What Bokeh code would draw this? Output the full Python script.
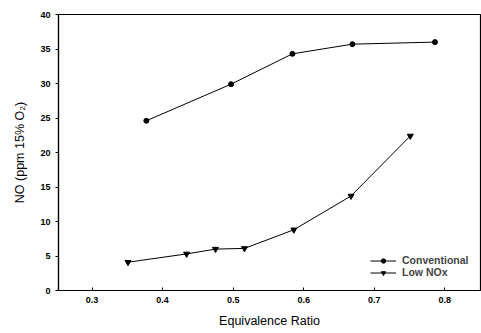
from bokeh.plotting import figure
from bokeh.models import Range1d, FixedTicker, Legend, LegendItem
from bokeh.embed import file_html
from bokeh.resources import INLINE

conv_x = [0.377, 0.497, 0.584, 0.669, 0.786]
conv_y = [24.6, 29.9, 34.3, 35.7, 36.0]
low_x = [0.351, 0.434, 0.475, 0.516, 0.586, 0.667, 0.751]
low_y = [4.1, 5.3, 6.0, 6.1, 8.8, 13.7, 22.4]
x_ticks = [0.3, 0.4, 0.5, 0.6, 0.7, 0.8]
y_ticks = [0, 5, 10, 15, 20, 25, 30, 35, 40]

FONT = "Liberation Sans"

p = figure(width=481, height=333, output_backend="svg", toolbar_location=None,
           x_range=Range1d(0.2525, 0.8505), y_range=Range1d(0, 40),
           min_border_left=58, min_border_right=1, min_border_top=14, min_border_bottom=43)
p.grid.visible = False
p.outline_line_color = "black"
p.outline_line_width = 1.2
p.background_fill_color = "white"
p.border_fill_color = "white"

p.xaxis.ticker = FixedTicker(ticks=x_ticks)
p.yaxis.ticker = FixedTicker(ticks=y_ticks)
p.xaxis.minor_tick_line_color = None
p.yaxis.minor_tick_line_color = None
p.xaxis.major_tick_in = 3
p.xaxis.major_tick_out = 0
p.yaxis.major_tick_in = 0
p.yaxis.major_tick_out = 3
for ax in (p.xaxis, p.yaxis):
    ax.axis_line_width = 1.2
    ax.major_label_text_font = FONT
    ax.major_label_text_font_style = "bold"
    ax.major_label_text_font_size = "9px"
    ax.major_label_text_color = "black"
    ax.axis_label_text_font = FONT
    ax.axis_label_text_font_style = "normal"
    ax.axis_label_text_font_size = "12.5px"
    ax.axis_label_text_color = "black"
p.xaxis.major_label_standoff = 6
p.yaxis.major_label_standoff = 5
p.xaxis.axis_label = "Equivalence Ratio"
p.yaxis.axis_label = "NO (ppm 15% O\u2082)"
p.xaxis.axis_label_standoff = 8
p.yaxis.axis_label_standoff = 10

l1 = p.line(conv_x, conv_y, line_color="black", line_width=1)
s1 = p.scatter(conv_x, conv_y, marker="circle", size=5, color="black")
l2 = p.line(low_x, low_y, line_color="black", line_width=1)
s2 = p.scatter(low_x, low_y, marker="inverted_triangle", size=6, color="black")

legend = Legend(items=[LegendItem(label="Conventional", renderers=[l1, s1]),
                       LegendItem(label="Low NOx", renderers=[l2, s2])],
                location=(312, 12))
legend.border_line_color = None
legend.background_fill_alpha = 0
legend.padding = 0
legend.margin = 0
legend.spacing = 0
legend.label_height = 11
legend.glyph_height = 11
legend.glyph_width = 26
legend.label_standoff = 6
legend.label_text_font = FONT
legend.label_text_font_style = "bold"
legend.label_text_font_size = "10.5px"
p.add_layout(legend)

open("out.html", "w").write(file_html(p, INLINE))
